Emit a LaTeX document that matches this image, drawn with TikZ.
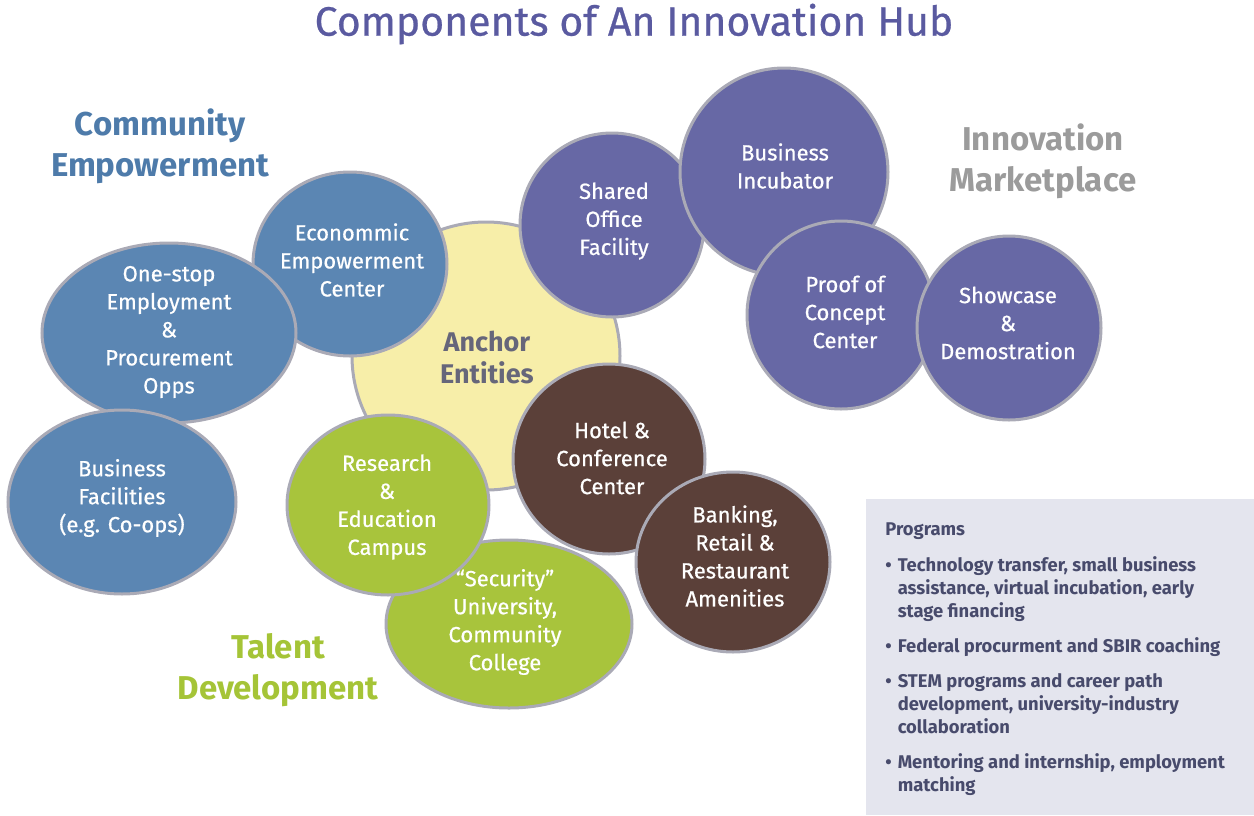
\documentclass[tikz,border=0pt]{standalone}
\usepackage{fontspec}
\setmainfont{Fira Sans}
\newfontfamily\hubmed[FakeBold=0.6,Ligatures=TeX]{Fira Sans}
\usepackage{tikz}
\usepackage{xcolor}
\usetikzlibrary{positioning}

\definecolor{hubblue}{HTML}{5B86B3}
\definecolor{hubpurple}{HTML}{6768A5}
\definecolor{hubgreen}{HTML}{A8C43C}
\definecolor{hubbrown}{HTML}{5B4039}
\definecolor{hubyellow}{HTML}{F7EEA9}
\definecolor{hubrim}{HTML}{AAAAB6}
\definecolor{titlepurple}{HTML}{5A5AA0}
\definecolor{headblue}{HTML}{4E7BAA}
\definecolor{headgray}{HTML}{9B9B9B}
\definecolor{headgreen}{HTML}{A5C437}
\definecolor{anchorgray}{HTML}{66667A}
\definecolor{boxfill}{HTML}{E4E5EE}
\definecolor{boxtext}{HTML}{484B6C}

\begin{document}
\begin{tikzpicture}[x=0.5pt,y=-0.5pt,
	bub/.style={draw=hubrim,line width=1.5pt},
	btxt/.style={text=white,align=center,inner sep=0pt,font=\hubmed\fontsize{11}{14}\selectfont},
	head/.style={align=center,inner sep=0pt,font=\bfseries\fontsize{16.5}{20.5}\selectfont}]
		\useasboundingbox (0,0) rectangle (1254,815);
		\node[text=titlepurple,inner sep=0pt,font=\hubmed\fontsize{20.5}{24}\selectfont] (title) at (634,24) {Components of An Innovation Hub};
		% group headings
		\node[head,text=headblue] (community) at (160,146) {Community\\Empowerment};
		\node[head,text=headgray] (market) at (1043,161) {Innovation\\Marketplace};
		\node[head,text=headgreen] (talent) at (278,670) {Talent\\Development};
		% core
		\draw[bub,fill=hubyellow] (486,356) ellipse (134 and 134);
		\node[align=center,inner sep=0pt,text=anchorgray,font=\bfseries\fontsize{13.5}{16}\selectfont] (anchor) at (487,357) {Anchor\\Entities};
		% community empowerment
		\draw[bub,fill=hubblue] (350,264) ellipse (97 and 92);
		\node[btxt] (econ) at (352,260) {Econommic\\Empowerment\\Center};
		\draw[bub,fill=hubblue] (169,333) ellipse (127 and 90);
		\node[btxt] (onestop) at (169,332) {One-stop\\Employment\\\&\\Procurement\\Opps};
		\draw[bub,fill=hubblue] (122,502) ellipse (114 and 92);
		\node[btxt] (bizfac) at (122,498) {Business\\Facilities\\(e.g. Co-ops)};
		% innovation marketplace
		\draw[bub,fill=hubpurple] (612,225) ellipse (92 and 92);
		\node[btxt] (office) at (614,221) {Shared\\Office\\Facility};
		\draw[bub,fill=hubpurple] (784,172) ellipse (104 and 104);
		\node[btxt] (incub) at (785,166) {Business\\Incubator};
		\draw[bub,fill=hubpurple] (841,315) ellipse (94 and 94);
		\node[btxt] (proof) at (845,312) {Proof of\\Concept\\Center};
		\draw[bub,fill=hubpurple] (1009,328) ellipse (92 and 92);
		\node[btxt] (showcase) at (1008,323) {Showcase\\\&\\Demostration};
		% amenities
		\draw[bub,fill=hubbrown] (609,459) ellipse (96 and 95);
		\node[btxt] (hotel) at (612,458) {Hotel \&\\Conference\\Center};
		\draw[bub,fill=hubbrown] (733,562) ellipse (97 and 90);
		\node[btxt] (banking) at (735,556) {Banking,\\Retail \&\\Restaurant\\Amenities};
		% talent development
		\draw[bub,fill=hubgreen] (509,624) ellipse (123 and 84);
		\node[btxt] (security) at (505,622) {``Security''\\University,\\Community\\College};
		\draw[bub,fill=hubgreen] (388,505) ellipse (101 and 90);
		\node[btxt] (research) at (387,507) {Research\\\&\\Education\\Campus};
		% programs box
		\fill[boxfill] (866,499) rectangle (1254,815);
		\node[anchor=north west,inner sep=0pt,text=boxtext,align=left,font=\bfseries\fontsize{9.2}{11.5}\selectfont] (programs) at (885,522) {%
			Programs\\[7pt]
			\begin{tabular}{@{}l@{\hspace{3pt}}l@{}}
			\textbullet & Technology transfer, small business\\
			& assistance, virtual incubation, early\\
			& stage financing\\[6pt]
			\textbullet & Federal procurment and SBIR coaching\\[6pt]
			\textbullet & STEM programs and career path\\
			& development, university-industry\\
			& collaboration\\[6pt]
			\textbullet & Mentoring and internship, employment\\
			& matching
			\end{tabular}};
	\end{tikzpicture}
\end{document}
